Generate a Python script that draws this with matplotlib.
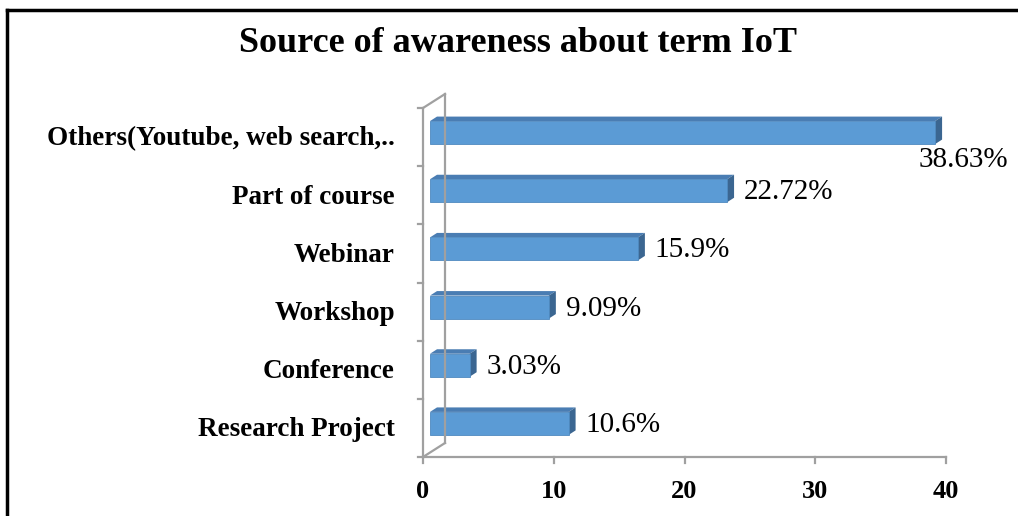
import matplotlib.pyplot as plt
from matplotlib.patches import Polygon
from matplotlib.lines import Line2D

categories = ['Research Project', 'Conference', 'Workshop', 'Webinar',
              'Part of course', 'Others(Youtube, web search,..']
values = [10.6, 3.03, 9.09, 15.9, 22.72, 38.63]
labels = ['10.6%', '3.03%', '9.09%', '15.9%', '22.72%', '38.63%']
xticks = [0, 10, 20, 30, 40]

W, H = 1018, 516
fig = plt.figure(figsize=(W / 100, H / 100), dpi=100)

# front plane in pixels: x=0 at 423, x=40 at 946, y from 457 (bottom) to 108 (top)
x0, x1, yb, yt = 423, 946, 457, 108
ax = fig.add_axes([x0 / W, (H - yb) / H, (x1 - x0) / W, (yb - yt) / H])
ax.set_xlim(0, 40)
ax.set_ylim(0, len(categories))
ax.axis('off')

# pixel -> data units
pxx = 40 / (x1 - x0)
pxy = len(categories) / (yb - yt)


def off(x, y, dx, dy):
    return (x + dx * pxx, y + dy * pxy)


wall = (22, 14)
bfront = (7, 4.5)
bback = (14, 9)
gray = '#a0a0a0'
serif = 'Liberation Serif'

# walls / axis lines
n = len(categories)
lines = [
    [(0, 0), (0, n)],
    [off(0, 0, *wall), off(0, n, *wall)],
    [(0, n), off(0, n, *wall)],
    [(0, 0), off(0, 0, *wall)],
    [(0, 0), (40, 0)],
]
for seg in lines:
    ax.add_line(Line2D([p[0] for p in seg], [p[1] for p in seg], color=gray,
                       lw=1.6, clip_on=False))
for t in xticks:
    ax.add_line(Line2D([t, t], [0, -6 * pxy], color=gray, lw=1.6, clip_on=False))
    ax.text(t, -35 * pxy, str(t), ha='center', va='center', family=serif,
            fontweight='bold', fontsize=19)
for i in range(n + 1):
    ax.add_line(Line2D([0, -5 * pxx], [i, i], color=gray, lw=1.6, clip_on=False))

# 3D bars
h = 23 * pxy
for i, (v, lab) in enumerate(zip(values, labels)):
    c = i + 0.5
    lo, hi = c - h / 2, c + h / 2
    front = [off(0, lo, *bfront), off(v, lo, *bfront), off(v, hi, *bfront), off(0, hi, *bfront)]
    top = [off(0, hi, *bfront), off(v, hi, *bfront), off(v, hi, *bback), off(0, hi, *bback)]
    side = [off(v, lo, *bfront), off(v, lo, *bback), off(v, hi, *bback), off(v, hi, *bfront)]
    ax.add_patch(Polygon(top, closed=True, fc='#4a7db3', ec='none', clip_on=False))
    ax.add_patch(Polygon(side, closed=True, fc='#3b6691', ec='none', clip_on=False))
    ax.add_patch(Polygon(front, closed=True, fc='#5b9bd5', ec='#4f8ac0', lw=0.6, clip_on=False))
    if v > 30:
        ax.text(v - 10 * pxx, c - 23 * pxy, lab, ha='left', va='center',
                family=serif, fontsize=21)
    else:
        ax.text(v + 24 * pxx, c + 3 * pxy, lab, ha='left', va='center',
                family=serif, fontsize=21)
    ax.text(-28 * pxx, c - 2 * pxy, categories[i], ha='right', va='center', family=serif,
            fontweight='bold', fontsize=19.5)

fig.text(518 / W, 1 - 44 / H, 'Source of awareness about term IoT', ha='center',
         va='center', family=serif, fontweight='bold', fontsize=26)

# outer frame (top and left edges)
fig.add_artist(Line2D([7 / W, 1], [1 - 10 / H, 1 - 10 / H], color='black', lw=2.5,
                      transform=fig.transFigure))
fig.add_artist(Line2D([7 / W, 7 / W], [0, 1 - 10 / H], color='black', lw=2.5,
                      transform=fig.transFigure))

fig.savefig('out.png', dpi=100, facecolor='white')
